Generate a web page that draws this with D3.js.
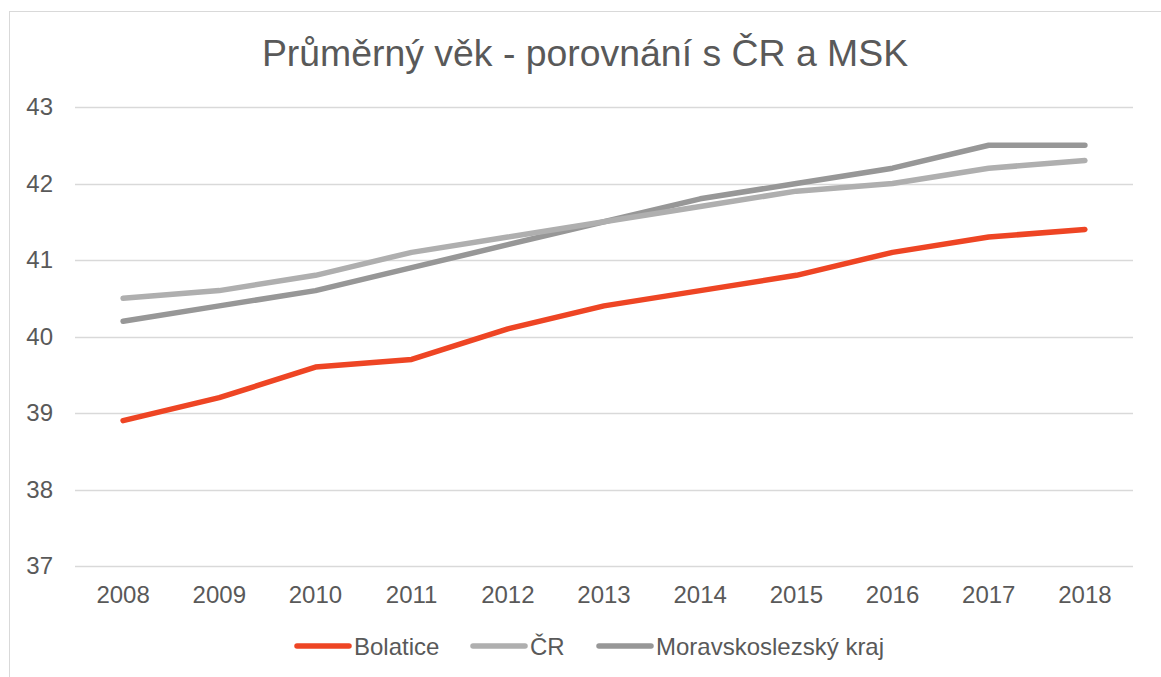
<!DOCTYPE html>
<html>
<head>
<meta charset="utf-8">
<script src="https://cdn.jsdelivr.net/npm/d3@7"></script>
<style>
  body { margin: 0; background: #fff; }
  text { font-family: "Liberation Sans", Arial, sans-serif; fill: #595959; }
</style>
</head>
<body>
<svg id="chart" width="1161" height="677"></svg>
<script>
"use strict";

// data
const years = ["2008","2009","2010","2011","2012","2013","2014","2015","2016","2017","2018"];
const bolatice = [38.9, 39.2, 39.6, 39.7, 40.1, 40.4, 40.6, 40.8, 41.1, 41.3, 41.4];
const cr       = [40.5, 40.6, 40.8, 41.1, 41.3, 41.5, 41.7, 41.9, 42.0, 42.2, 42.3];
const msk      = [40.2, 40.4, 40.6, 40.9, 41.2, 41.5, 41.8, 42.0, 42.2, 42.5, 42.5];
const yTicks   = [37, 38, 39, 40, 41, 42, 43];

const series = [
  { name: "Bolatice", values: bolatice, color: "#ee4524" },
  { name: "ČR", values: cr, color: "#afafaf" },
  { name: "Moravskoslezský kraj", values: msk, color: "#979797" }
];

const svg = d3.select("#chart");

// outer frame of the chart
svg.append("rect")
  .attr("x", 9.5).attr("y", 11.5)
  .attr("width", 1170).attr("height", 700)
  .attr("fill", "none")
  .attr("stroke", "#d9d9d9");

svg.append("text")
  .attr("x", 585).attr("y", 66)
  .attr("text-anchor", "middle")
  .style("font-size", "37.4px")
  .text("Průměrný věk - porovnání s ČR a MSK");

const plotLeft = 75, plotRight = 1133, plotTop = 107, plotBottom = 566;

const x = d3.scaleBand().domain(years).range([plotLeft, plotRight]);
const y = d3.scaleLinear().domain([37, 43]).range([plotBottom, plotTop]);

// gridlines
svg.append("g")
  .selectAll("line")
  .data(yTicks)
  .enter().append("line")
  .attr("x1", plotLeft).attr("x2", plotRight)
  .attr("y1", d => Math.round(y(d)) + 0.5)
  .attr("y2", d => Math.round(y(d)) + 0.5)
  .attr("stroke", "#d9d9d9")
  .attr("stroke-width", 1.3);

// y axis labels
const yAxis = svg.append("g")
  .attr("transform", `translate(${plotLeft},0)`)
  .call(d3.axisLeft(y).tickValues(yTicks).tickFormat(d3.format("d")).tickSize(0).tickPadding(22));
yAxis.select(".domain").remove();
yAxis.selectAll("text").style("font-size", "24px").attr("fill", "#595959")
  .style("font-family", "'Liberation Sans', Arial, sans-serif");

// x axis labels
const xAxis = svg.append("g")
  .attr("transform", `translate(0,${plotBottom})`)
  .call(d3.axisBottom(x).tickSize(0).tickPadding(20));
xAxis.select(".domain").remove();
xAxis.selectAll("text").style("font-size", "24px").attr("fill", "#595959")
  .style("font-family", "'Liberation Sans', Arial, sans-serif");

const line = d3.line()
  .x((d, i) => x(years[i]) + x.bandwidth() / 2)
  .y(d => y(d));

svg.append("g")
  .selectAll("path")
  .data(series.slice().reverse())
  .enter().append("path")
  .attr("d", d => line(d.values))
  .attr("fill", "none")
  .attr("stroke", d => d.color)
  .attr("stroke-width", 5.5)
  .attr("stroke-linecap", "round")
  .attr("stroke-linejoin", "round");

// legend
const legendX = [297, 473, 599];
const legend = svg.selectAll(".legend")
  .data(series)
  .enter().append("g")
  .attr("class", "legend")
  .attr("transform", (d, i) => `translate(${legendX[i]},646)`);

legend.append("line")
  .attr("x1", 0).attr("x2", 52)
  .attr("stroke", d => d.color)
  .attr("stroke-width", 5.5)
  .attr("stroke-linecap", "round");

legend.append("text")
  .attr("x", 57).attr("y", 8.5)
  .style("font-size", "24px")
  .text(d => d.name);
</script>
</body>
</html>
